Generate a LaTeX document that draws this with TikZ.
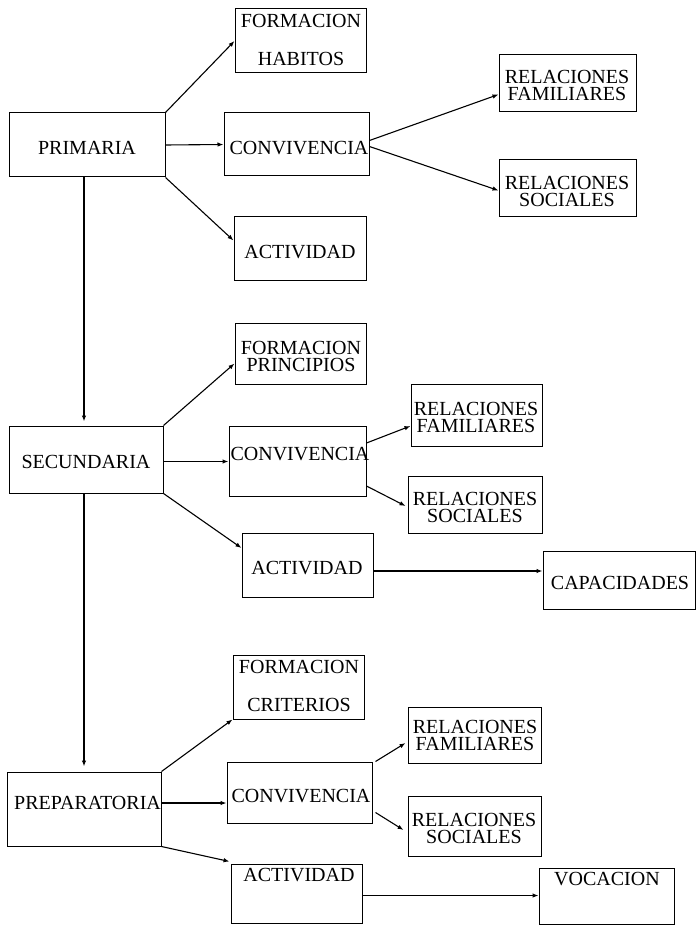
\documentclass[tikz,border=0pt]{standalone}
\usepackage{fontspec}
\setmainfont{Liberation Serif}
\usetikzlibrary{arrows.meta,calc}

% rectangle from its corners (x1,y1)-(x2,y2), y measured downwards
\newcommand\mkbox[5]{%
  \node[box, minimum width={(#4-#2)*1pt}, minimum height={(#5-#3)*1pt}]
    (#1) at ({(#2+#4)/2},{(#3+#5)/2}) {};}

\tikzset{
  box/.style={draw, rectangle, line width=1pt, inner sep=0pt},
  lbl/.style={inner sep=0pt, font=\fontsize{20}{17}\selectfont, align=center},
  lblwide/.style={inner sep=0pt, font=\fontsize{20}{38}\selectfont, align=center},
  conn/.style={line width=1.1pt, -{Latex[length=6pt,width=4.5pt]}}
}

\begin{document}
\begin{tikzpicture}[x=1pt, y=-1pt]
\useasboundingbox (0,0) rectangle (696,925);

% ---------- PRIMARIA ----------
\mkbox{prim}{9}{113}{165}{177}
\mkbox{fh}{235}{9}{366}{73}
\mkbox{conva}{224}{113}{369}{176}
\mkbox{acta}{234}{217}{366}{280}
\mkbox{rfa}{499}{55}{636}{112}
\mkbox{rsa}{499}{160}{636}{217}

\node[lbl] (tprim) at (87,148) {PRIMARIA};
\node[lblwide] (tfh) at (301,39.5) {FORMACION\\HABITOS};
\node[lbl] (tconva) at (299,148) {CONVIVENCIA};
\node[lbl] (tacta) at (300,252) {ACTIVIDAD};
\node[lbl] (trfa) at (567,85.5) {RELACIONES\\FAMILIARES};
\node[lbl] (trsa) at (567,191.5) {RELACIONES\\SOCIALES};

\draw[conn] (prim.north east) -- (fh.west);
\draw[conn] (prim.east) -- (conva.west);
\draw[conn] (prim.south east) -- ([yshift=8pt]acta.west);
\draw[conn] ([yshift=4pt]conva.east) -- ([yshift=-11pt]rfa.west);
\draw[conn] ([yshift=-2pt]conva.east) -- ([yshift=-2pt]rsa.west);

% ---------- SECUNDARIA ----------
\mkbox{sec}{9}{426}{163}{493}
\mkbox{fp}{235}{323}{366}{384}
\mkbox{convb}{229}{426}{366}{496}
\mkbox{actb}{242}{533}{373}{597}
\mkbox{rfb}{411}{384}{542}{446}
\mkbox{rsb}{408}{476}{542}{533}
\mkbox{cap}{543}{551}{695}{609}

\node[lbl] (tsec) at (86,462) {SECUNDARIA};
\node[lbl] (tfp) at (301,356.5) {FORMACION\\PRINCIPIOS};
\node[lbl] (tconvb) at (300,454) {CONVIVENCIA};
\node[lbl] (tactb) at (307,568) {ACTIVIDAD};
\node[lbl] (trfb) at (476,417.5) {RELACIONES\\FAMILIARES};
\node[lbl] (trsb) at (475,507) {RELACIONES\\SOCIALES};
\node[lbl] (tcap) at (620,583) {CAPACIDADES};

\draw[conn] ([xshift=-3pt]prim.south) -- ([xshift=-2pt,yshift=4pt]sec.north);
\draw[conn] (sec.north east) -- ([yshift=-10pt]fp.west);
\draw[conn] ([yshift=-2pt]sec.east) -- ([yshift=-2pt]sec.east -| convb.west);
\draw[conn] (sec.south east) -- ([yshift=17pt]actb.west);
\draw[conn] ([yshift=18pt]convb.east) -- ([yshift=-11pt]rfb.west);
\draw[conn] ([yshift=-25pt]convb.east) -- ([xshift=-2pt,yshift=-1.5pt]rsb.west);
\draw[conn] ([yshift=-6pt]actb.east) -- ([yshift=-6pt]actb.east -| cap.west);

% ---------- PREPARATORIA ----------
\mkbox{prep}{7}{772}{161}{846}
\mkbox{fc}{233}{655}{364}{719}
\mkbox{convc}{227}{762}{372}{823}
\mkbox{actc}{231}{864}{362}{923}
\mkbox{rfc}{408}{707}{541}{763}
\mkbox{rsc}{408}{796}{541}{856}
\mkbox{voc}{539}{868}{674}{924}

\node[lbl] (tprep) at (87.5,803) {PREPARATORIA};
\node[lblwide] (tfc) at (299,686) {FORMACION\\CRITERIOS};
\node[lbl] (tconvc) at (301,796) {CONVIVENCIA};
\node[lbl] (tactc) at (299,875) {ACTIVIDAD};
\node[lbl] (trfc) at (475,735) {RELACIONES\\FAMILIARES};
\node[lbl] (trsc) at (474,828) {RELACIONES\\SOCIALES};
\node[lbl] (tvoc) at (607,879) {VOCACION};

\draw[conn] ([xshift=-2pt]sec.south) -- ([yshift=5pt]prep.north);
\draw[conn] (prep.north east) -- (fc.south west);
\draw[conn] ([yshift=6pt]prep.east) -- ([yshift=6pt]prep.east -| convc.west);
\draw[conn] (prep.south east) -- ([xshift=-1pt,yshift=2pt]actc.north west);
\draw[conn] ([xshift=3pt,yshift=31pt]convc.east) -- ([xshift=-2pt,yshift=-8pt]rfc.west);
\draw[conn] ([xshift=3pt,yshift=-20pt]convc.east) -- ([xshift=-4pt,yshift=-4pt]rsc.west);
\draw[conn] ([yshift=-2pt]actc.east) -- ([yshift=-2pt]actc.east -| voc.west);

\end{tikzpicture}
\end{document}
